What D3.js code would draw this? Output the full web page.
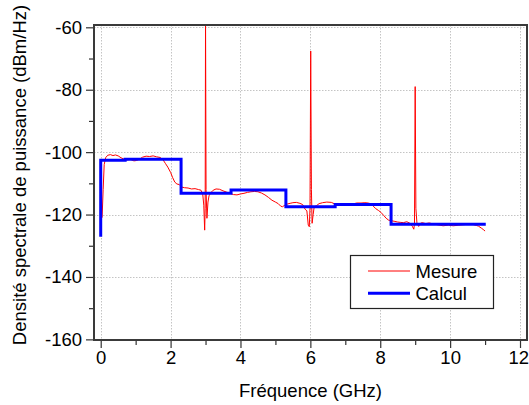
<!DOCTYPE html>
<html><head><meta charset="utf-8">
<script src="https://cdn.jsdelivr.net/npm/d3@7"></script>
<style>
html,body{margin:0;padding:0;background:#fff;}
svg{display:block;font-family:"Liberation Sans",Arial,sans-serif;}
</style></head>
<body><svg id="c" width="529" height="405"></svg>
<script>
// ---- data ----
const mesureFreq = [0.04,0.07,0.10,0.14,0.2,0.28,0.35,0.42,0.5,0.58,0.66,0.75,0.85,0.95,1.02,1.1,1.2,1.3,1.4,1.5,1.6,1.7,1.78,1.85,1.92,2.0,2.06,2.12,2.18,2.25,2.32,2.4,2.5,2.6,2.7,2.8,2.87,2.92,2.95,2.975,2.99,3.0,3.015,3.04,3.07,3.1,3.15,3.22,3.3,3.4,3.5,3.6,3.7,3.8,3.9,4.0,4.1,4.2,4.3,4.4,4.5,4.6,4.7,4.8,4.9,5.0,5.08,5.15,5.2,5.27,5.35,5.42,5.5,5.6,5.7,5.78,5.85,5.9,5.94,5.97,5.99,6.01,6.03,6.05,6.08,6.11,6.17,6.25,6.35,6.47,6.6,6.7,6.8,6.9,7.0,7.13,7.25,7.33,7.45,7.56,7.65,7.72,7.8,7.87,7.95,8.02,8.1,8.17,8.24,8.33,8.42,8.5,8.57,8.66,8.76,8.85,8.92,8.96,8.98,9.0,9.02,9.05,9.1,9.15,9.2,9.3,9.4,9.52,9.65,9.8,9.95,10.09,10.25,10.43,10.55,10.66,10.75,10.81,10.9,10.96,11.0];
const mesureDb = [-121,-112,-104,-101.8,-101.0,-100.8,-101.1,-100.9,-101.2,-101.8,-102.2,-102.5,-102.3,-102.8,-102.7,-102.3,-101.6,-101.3,-101.4,-101.2,-101.5,-101.7,-102.4,-103.6,-104.8,-106.5,-108.2,-109.6,-110.2,-110.4,-111.2,-111.4,-111.5,-111.8,-111.7,-112.0,-112.2,-113.5,-117,-125,-118,-57,-112,-121.2,-116,-114,-113,-112.2,-111.8,-111.9,-112.4,-112.8,-113.2,-113.6,-113.7,-113.4,-113.2,-112.9,-112.7,-112.6,-112.7,-113.1,-113.7,-114.5,-115.4,-116.0,-116.5,-117.3,-117.5,-117.0,-116.6,-116.4,-116.2,-116.1,-116.4,-116.8,-118.3,-118.8,-123.4,-123.9,-118,-67.6,-112,-122.8,-120,-117.5,-117.2,-116.5,-116.2,-116.0,-116.1,-116.6,-117.0,-117.0,-116.9,-116.7,-116.5,-116.3,-116.3,-116.2,-116.3,-116.5,-117.3,-118.1,-118.7,-119.3,-120.3,-121.2,-121.8,-122.0,-122.2,-122.4,-122.5,-122.6,-122.3,-122.8,-123.8,-124.7,-123,-79,-118,-122.7,-123.8,-122.8,-122.6,-122.9,-122.7,-123.0,-123.3,-123.6,-123.4,-123.6,-123.4,-123.2,-123.1,-123.2,-123.5,-123.7,-124.4,-124.9,-125.3];
const calculFreq = [0, 0, 0.7, 2.3, 3.73, 5.3, 6.71, 8.31, 11.02];
const calculDb = [-127.1, -102.6, -102.3, -113.2, -112.1, -117.5, -116.8, -123.1, -123.1];
const xTicks = [0,2,4,6,8,10,12];
const xMinor = [1,3,5,7,9,11];
const yTicks = [-60,-80,-100,-120,-140,-160];
const yMinor = [-70,-90,-110,-130,-150];
const seriesNames = ["Mesure","Calcul"];
const xTitle = "Fréquence (GHz)";
const yTitle = "Densité spectrale de puissance (dBm/Hz)";

// ---- layout ----
const L = 94, R = 527, T = 25, B = 340;
const W = 529;
const svg = d3.select("#c");
const x = d3.scaleLinear().domain([-0.192, 12.2]).range([L, R]);
const y = d3.scaleLinear().domain([-59.26, -160.2]).range([T, B]);
const FONT = '"Liberation Sans",Arial,sans-serif';
const fs = "18.5px";

// grid
const grid = svg.append("g").attr("stroke", "#c4c4c4").attr("stroke-width", 1).attr("stroke-dasharray", "1.5,1.5");
xTicks.forEach(v => grid.append("line").attr("x1", Math.round(x(v))+0.5).attr("x2", Math.round(x(v))+0.5).attr("y1", T).attr("y2", B));
yTicks.forEach(v => grid.append("line").attr("y1", Math.round(y(v))+0.5).attr("y2", Math.round(y(v))+0.5).attr("x1", L).attr("x2", R));

// clip
svg.append("clipPath").attr("id", "clip").append("rect").attr("x", L).attr("y", T).attr("width", R - L).attr("height", B - T);
const plot = svg.append("g").attr("clip-path", "url(#clip)");

const mesure = mesureFreq.map((f, i) => [f, mesureDb[i]]);
const calcul = calculFreq.map((f, i) => [f, calculDb[i]]);

plot.append("path").datum(mesure)
  .attr("d", d3.line().x(d => x(d[0])).y(d => y(d[1])))
  .attr("fill", "none").attr("stroke", "#ff0000").attr("stroke-width", 1);
plot.append("path").datum(calcul)
  .attr("d", d3.line().curve(d3.curveStepAfter).x(d => x(d[0])).y(d => y(d[1])))
  .attr("fill", "none").attr("stroke", "#0000ff").attr("stroke-width", 3).attr("stroke-linejoin", "miter");

// axes
const fmt = d => String(d);
const xAxis = svg.append("g").attr("transform", `translate(0,${B})`)
  .call(d3.axisBottom(x).tickValues(xTicks).tickSize(8).tickPadding(3).tickFormat(fmt));
const xAxisMinor = svg.append("g").attr("transform", `translate(0,${B})`)
  .call(d3.axisBottom(x).tickValues(xMinor).tickSize(5).tickFormat(""));
const yAxis = svg.append("g").attr("transform", `translate(${L},0)`)
  .call(d3.axisLeft(y).tickValues(yTicks).tickSize(8).tickPadding(4).tickFormat(fmt));
const yAxisMinor = svg.append("g").attr("transform", `translate(${L},0)`)
  .call(d3.axisLeft(y).tickValues(yMinor).tickSize(5).tickFormat(""));
[xAxis, xAxisMinor, yAxis, yAxisMinor].forEach(g => {
  g.select(".domain").remove();
  g.selectAll("line").attr("stroke", "#333").attr("stroke-width", 1.2);
  g.selectAll("text").attr("fill", "#000").style("font-size", fs).style("font-family", FONT);
});
// keep the last x label inside the page edge
xAxis.selectAll(".tick text").each(function () {
  const bb = this.getBBox();
  const tx = x(+d3.select(this.parentNode).datum());
  const over = tx + bb.x + bb.width - (W - 0.5);
  if (over > 0) d3.select(this).attr("dx", -over);
});

// frame
svg.append("rect").attr("x", L).attr("y", T).attr("width", R - L).attr("height", B - T)
  .attr("fill", "none").attr("stroke", "#3a3a3a").attr("stroke-width", 2);

// titles
svg.append("text").attr("x", (L + R) / 2).attr("y", 397).attr("text-anchor", "middle")
  .style("font-size", fs).text(xTitle);
svg.append("text").attr("transform", "translate(26,175) rotate(-90)").attr("text-anchor", "middle")
  .style("font-size", fs).text(yTitle);

// legend
const lg = svg.append("g");
lg.append("rect").attr("x", 350.5).attr("y", 255.5).attr("width", 143).attr("height", 53)
  .attr("fill", "#fff").attr("stroke", "#222").attr("stroke-width", 1.2);
const lgStyles = [{c: "#ff0000", w: 1}, {c: "#0000ff", w: 3}];
seriesNames.forEach((n, i) => {
  const yy = 271 + i * 22.3;
  lg.append("line").attr("x1", 368).attr("x2", 410).attr("y1", yy).attr("y2", yy)
    .attr("stroke", lgStyles[i].c).attr("stroke-width", lgStyles[i].w);
  lg.append("text").attr("x", 415.5).attr("y", yy + 6.5).style("font-size", fs).text(n);
});
</script></body></html>
